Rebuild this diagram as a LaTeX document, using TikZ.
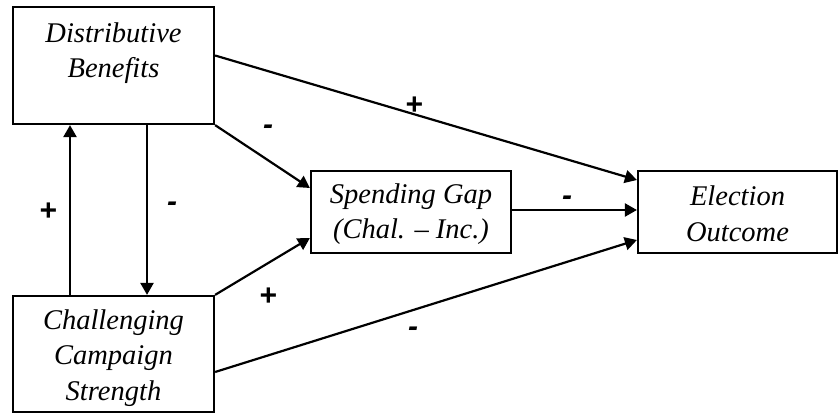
\documentclass[tikz,border=0pt]{standalone}
\usepackage{fontspec}
\setmainfont{Liberation Serif}
\newfontfamily\lblfont{Liberation Sans}
\usetikzlibrary{arrows.meta}
\begin{document}
\begin{tikzpicture}[x=1pt,y=-1pt,
  box/.style={draw, line width=2.2pt, inner sep=0pt},
  txt/.style={font=\itshape\fontsize{28.5}{35.5}\selectfont, align=center, inner sep=0pt},
  sign/.style={font=\lblfont\bfseries\itshape\fontsize{30}{32}\selectfont, inner sep=0pt},
  arr/.style={-{Triangle[length=12pt,width=13pt]}, line width=2.2pt}]
\useasboundingbox (0,0) rectangle (840,414);
% boxes
\node[box, minimum width=201pt, minimum height=117pt] (A) at (113.5,65.5) {};
\node[txt] (Atxt) at (113.5,53) {Distributive\\Benefits};
\node[box, minimum width=201pt, minimum height=116pt] (B) at (113.5,354) {};
\node[txt] (Btxt) at (113.5,358) {Challenging\\Campaign\\Strength};
\node[box, minimum width=200pt, minimum height=82pt] (C) at (411,212) {};
\node[txt] (Ctxt) at (411,214) {Spending Gap\\(Chal. -- Inc.)};
\node[box, minimum width=199pt, minimum height=82pt] (D) at (737.5,212) {};
\node[txt] (Dtxt) at (737.5,214) {Election\\Outcome};
% helper x positions
\coordinate (upx) at (70,0);
\coordinate (dnx) at (147,0);
% connectors
\draw[arr] (B.north -| upx) -- (A.south -| upx);
\draw[arr] (A.south -| dnx) -- (B.north -| dnx);
\draw[arr] (A.south east) -- ([yshift=24pt]C.west);
\draw[arr] (B.north east) -- ([yshift=-26pt]C.west);
\draw[arr] ([yshift=10pt]A.east) -- ([yshift=32pt]D.west);
\draw[arr] ([yshift=2pt]C.east) -- ([yshift=2pt]D.west);
\draw[arr] ([yshift=-18pt]B.east) -- ([yshift=-28pt]D.west);
% signs
\node[sign] (s1) at (414,106) {+};
\node[sign] (s2) at (268,130) {-};
\node[sign] (s3) at (48,212) {+};
\node[sign] (s4) at (172,207) {-};
\node[sign] (s5) at (268,297) {+};
\node[sign] (s6) at (567,201) {-};
\node[sign] (s7) at (413,332) {-};
\end{tikzpicture}
\end{document}
